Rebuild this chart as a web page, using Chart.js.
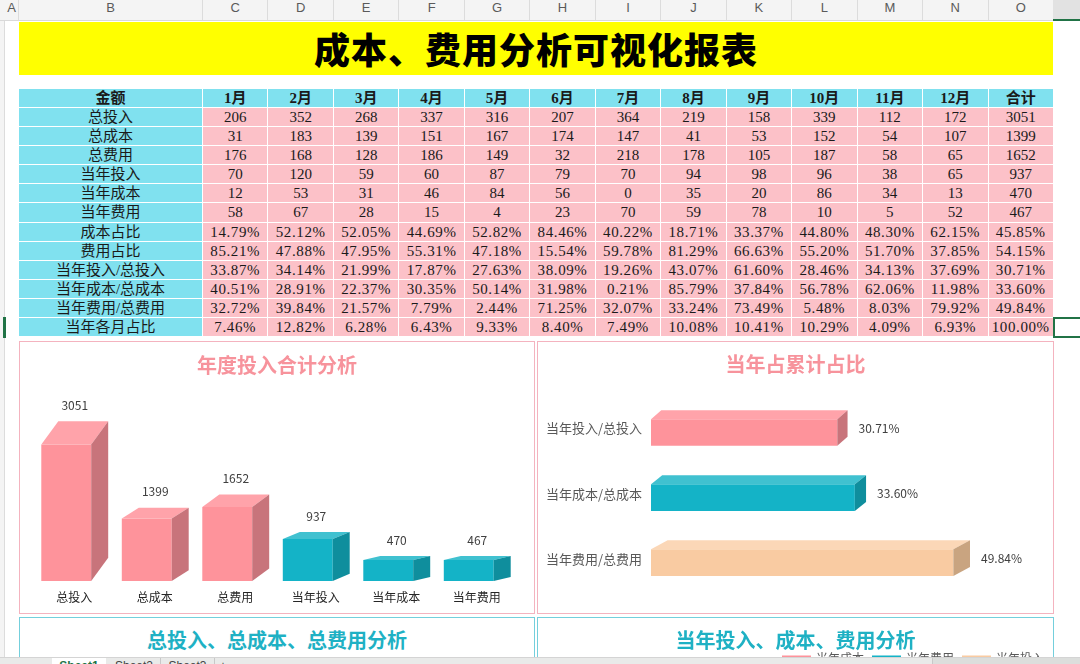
<!DOCTYPE html>
<html lang="zh-CN">
<head>
<meta charset="utf-8">
<title>成本、费用分析可视化报表</title>
<script src="https://cdn.jsdelivr.net/npm/chart.js@4.4.1/dist/chart.umd.min.js"></script>
<style>
html,body{margin:0;padding:0;width:1080px;height:664px;overflow:hidden;background:#fff;}
body{position:relative;font-family:"Noto Sans CJK SC","Noto Sans",sans-serif;}
.a{position:absolute;box-sizing:border-box;}
#hdr{left:0;top:0;width:1080px;height:21px;background:#f4f4f4;border-bottom:1px solid #d9d9d9;}
.hc{position:absolute;top:0;height:20px;line-height:20px;text-align:center;font:13px "Liberation Sans",Arial,sans-serif;color:#5a5a5a;border-right:1px solid #dcdcdc;box-sizing:border-box;}
#rowhdr{left:0;top:21px;width:5px;height:640px;background:#f4f4f4;border-right:1px solid #dcdcdc;}
#title{left:19px;top:22px;width:1034px;height:53px;background:#ffff00;text-align:center;font-weight:900;font-size:36px;line-height:53px;letter-spacing:1px;color:#000;}
.cell{position:absolute;box-sizing:border-box;border-right:1px solid #fff;border-bottom:1px solid #fff;text-align:center;font-family:"Liberation Serif","Noto Sans CJK SC",serif;font-size:15px;color:#1a1a1a;white-space:nowrap;overflow:hidden;}
.lab{background:#80e1ef;}
.val{background:#fcc1c8;}
.hd{font-weight:bold;}
.pct{letter-spacing:0.6px;}
.panel{position:absolute;box-sizing:border-box;}
.pk{border:1px solid #f4b3bf;}
.cy{border:1px solid #74cfdc;}
.ttl{position:absolute;text-align:center;font-weight:bold;font-size:20px;height:26px;line-height:26px;}
canvas{position:absolute;}
#tabs{left:0;top:657px;width:1080px;height:20px;background:#e9eae9;border-top:1px solid #d4d4d4;font:12px "Liberation Sans",Arial,sans-serif;color:#444;}
.tab{position:absolute;top:0;height:20px;line-height:16px;text-align:center;}
</style>
</head>
<body>
<div id="hdr" class="a"></div>
<div id="rowhdr" class="a"></div>
<div id="title" class="a">成本、费用分析可视化报表</div>
<div id="tbl"></div>

<div class="panel pk" style="left:19px;top:341px;width:516px;height:273px;"></div>
<div class="panel pk" style="left:537px;top:341px;width:517px;height:273px;"></div>
<div class="panel cy" style="left:19px;top:617px;width:516px;height:120px;"></div>
<div class="panel cy" style="left:537px;top:617px;width:517px;height:120px;"></div>

<canvas id="c1" width="513" height="270" style="left:20px;top:342px;"></canvas>
<canvas id="c2" width="514" height="270" style="left:538px;top:342px;"></canvas>
<canvas id="c4" width="517" height="240" style="left:538px;top:618px;"></canvas>

<div class="ttl" style="left:19px;top:352px;width:516px;color:#f7939c;">年度投入合计分析</div>
<div class="ttl" style="left:537px;top:351px;width:517px;color:#f7939c;">当年占累计占比</div>
<div class="ttl" style="left:19px;top:627px;width:516px;color:#1fb1c4;">总投入、总成本、总费用分析</div>
<div class="ttl" style="left:537px;top:627px;width:517px;color:#1fb1c4;">当年投入、成本、费用分析</div>

<div id="tabs" class="a">
  <div class="tab" style="left:12px;width:30px;color:#888;">◂ ▸</div>
  <div class="tab" style="left:52px;width:54px;background:#fff;color:#217346;font-weight:bold;">Sheet1</div>
  <div class="tab" style="left:108px;width:52px;border-right:1px solid #c8c8c8;">Sheet2</div>
  <div class="tab" style="left:161px;width:53px;border-right:1px solid #c8c8c8;">Sheet3</div>
  <div class="tab" style="left:216px;width:14px;">+</div>
  <div class="tab" style="left:932px;width:148px;background:#dcdedc;border-left:1px solid #c8c8c8;"></div>
</div>
<div class="a" style="left:1053px;top:0;width:27px;height:21px;background:#e2e2e2;border-bottom:2px solid #217346;"></div>
<div class="a" style="left:1053px;top:317px;width:30px;height:21px;border:2px solid #217346;"></div>
<div class="a" style="left:3px;top:317px;width:3px;height:21px;background:#217346;"></div>

<script>
// ---------------- DATA ----------------
const colLetters = ['A','B','C','D','E','F','G','H','I','J','K','L','M','N','O'];
const headerLabel = '金额';
const months = ['1月','2月','3月','4月','5月','6月','7月','8月','9月','10月','11月','12月','合计'];
const rowLabels = ['总投入','总成本','总费用','当年投入','当年成本','当年费用','成本占比','费用占比','当年投入/总投入','当年成本/总成本','当年费用/总费用','当年各月占比'];

const totalInput   = [206,352,268,337,316,207,364,219,158,339,112,172,3051];
const totalCost    = [31,183,139,151,167,174,147,41,53,152,54,107,1399];
const totalExpense = [176,168,128,186,149,32,218,178,105,187,58,65,1652];
const yearInput    = [70,120,59,60,87,79,70,94,98,96,38,65,937];
const yearCost     = [12,53,31,46,84,56,0,35,20,86,34,13,470];
const yearExpense  = [58,67,28,15,4,23,70,59,78,10,5,52,467];
const costRatio        = ['14.79%','52.12%','52.05%','44.69%','52.82%','84.46%','40.22%','18.71%','33.37%','44.80%','48.30%','62.15%','45.85%'];
const expenseRatio     = ['85.21%','47.88%','47.95%','55.31%','47.18%','15.54%','59.78%','81.29%','66.63%','55.20%','51.70%','37.85%','54.15%'];
const yearInputShare   = ['33.87%','34.14%','21.99%','17.87%','27.63%','38.09%','19.26%','43.07%','61.60%','28.46%','34.13%','37.69%','30.71%'];
const yearCostShare    = ['40.51%','28.91%','22.37%','30.35%','50.14%','31.98%','0.21%','85.79%','37.84%','56.78%','62.06%','11.98%','33.60%'];
const yearExpenseShare = ['32.72%','39.84%','21.57%','7.79%','2.44%','71.25%','32.07%','33.24%','73.49%','5.48%','8.03%','79.92%','49.84%'];
const monthShare       = ['7.46%','12.82%','6.28%','6.43%','9.33%','8.40%','7.49%','10.08%','10.41%','10.29%','4.09%','6.93%','100.00%'];

// chart 1
const annualCats   = ['总投入','总成本','总费用','当年投入','当年成本','当年费用'];
const annualValues = [3051,1399,1652,937,470,467];
// chart 2
const shareCats    = ['当年投入/总投入','当年成本/总成本','当年费用/总费用'];
const shareValues  = [30.71,33.60,49.84];
// chart 4 (monthly, partially visible)
const monthLabels  = ['1月','2月','3月','4月','5月','6月','7月','8月','9月','10月','11月','12月'];
const seriesNames4 = ['当年成本','当年费用','当年投入'];

// ---------------- LAYOUT / STYLE ----------------
const colEdges = [5,19,203];
for (let i = 1; i <= 13; i++) colEdges.push(203 + i * 65.46);
const tableTop = 89, rowH = 19.08;

const pinkFront = '#fe939b', pinkSide = '#c8747b', pinkTop = '#ffa3aa';
const tealFront = '#14b3c7', tealSide = '#0f8e9d', tealTop = '#40c1d0';
const peachFront = '#f9cba2', peachSide = '#c9a480', peachTop = '#fbd7b7';

// column header
const hdr = document.getElementById('hdr');
colLetters.forEach((L, i) => {
  const d = document.createElement('div');
  d.className = 'hc';
  d.style.left = colEdges[i] + 'px';
  d.style.width = (colEdges[i + 1] - colEdges[i]) + 'px';
  d.textContent = L;
  hdr.appendChild(d);
});

// table
const tbl = document.getElementById('tbl');
const rows = [totalInput, totalCost, totalExpense, yearInput, yearCost, yearExpense,
  costRatio, expenseRatio, yearInputShare, yearCostShare, yearExpenseShare, monthShare];
function addCell(r, c, text, cls) {
  const d = document.createElement('div');
  d.className = 'cell ' + cls;
  const x0 = c === 0 ? 19 : colEdges[c + 1];
  const x1 = colEdges[c + 2];
  const y0 = tableTop + r * rowH;
  d.style.left = x0 + 'px';
  d.style.width = (x1 - x0) + 'px';
  d.style.top = y0 + 'px';
  d.style.height = rowH + 'px';
  d.style.lineHeight = (rowH - 1) + 'px';
  d.textContent = text;
  tbl.appendChild(d);
}
addCell(0, 0, headerLabel, 'lab hd');
months.forEach((m, j) => addCell(0, j + 1, m, 'lab hd'));
rows.forEach((arr, i) => {
  addCell(i + 1, 0, rowLabels[i], 'lab');
  arr.forEach((v, j) => addCell(i + 1, j + 1, String(v), 'val' + (typeof v === 'string' ? ' pct' : '')));
});

// ---------------- 3D BAR PLUGIN ----------------
const bar3d = {
  id: 'bar3d',
  afterDatasetsDraw(chart, args, opts) {
    const ctx = chart.ctx;
    const horiz = chart.options.indexAxis === 'y';
    chart.data.datasets.forEach((ds, di) => {
      const meta = chart.getDatasetMeta(di);
      meta.data.forEach((el, i) => {
        const p = el.getProps(['x', 'y', 'base', 'width', 'height'], true);
        let l, r, t, b, dx, dy;
        if (!horiz) {
          l = p.x - p.width / 2; r = p.x + p.width / 2; t = p.y; b = p.base;
          dx = opts.dx; dy = Math.max(opts.minDy, (b - t) * opts.kDy);
        } else {
          l = p.base; r = p.x; t = p.y - p.height / 2; b = p.y + p.height / 2;
          dy = opts.dy; dx = Math.max(opts.minDx, (r - l) * opts.kDx);
        }
        ctx.save();
        ctx.fillStyle = opts.top[i];
        ctx.beginPath();
        ctx.moveTo(l, t); ctx.lineTo(l + dx, t - dy); ctx.lineTo(r + dx, t - dy); ctx.lineTo(r, t);
        ctx.closePath(); ctx.fill();
        ctx.fillStyle = opts.side[i];
        ctx.beginPath();
        ctx.moveTo(r, t); ctx.lineTo(r + dx, t - dy); ctx.lineTo(r + dx, b - dy); ctx.lineTo(r, b);
        ctx.closePath(); ctx.fill();
        // value label
        const v = ds.data[i];
        ctx.fillStyle = opts.labelColor;
        ctx.font = opts.labelFont;
        ctx.textBaseline = 'middle';
        if (!horiz) {
          ctx.textAlign = 'center';
          ctx.fillText(String(v), p.x + dx / 2, t - dy - opts.labelGap);
        } else {
          ctx.textAlign = 'left';
          ctx.fillText(v.toFixed(2) + '%', r + dx + opts.labelGap, p.y - dy / 2);
        }
        ctx.restore();
      });
    });
  }
};

const cjk = '"Noto Sans CJK SC","Noto Sans",sans-serif';

// ---------------- CHART 1 ----------------
new Chart(document.getElementById('c1'), {
  type: 'bar',
  data: {
    labels: annualCats,
    datasets: [{
      data: annualValues,
      backgroundColor: [pinkFront, pinkFront, pinkFront, tealFront, tealFront, tealFront],
      borderWidth: 0, barPercentage: 0.62, categoryPercentage: 1
    }]
  },
  options: {
    responsive: false, animation: false, devicePixelRatio: 1,
    layout: { padding: { left: 6, right: 24, top: 60, bottom: 0 } },
    plugins: {
      legend: { display: false }, tooltip: { enabled: false },
      bar3d: {
        dx: 17, kDy: 0.17, minDy: 4,
        top: [pinkTop, pinkTop, pinkTop, tealTop, tealTop, tealTop],
        side: [pinkSide, pinkSide, pinkSide, tealSide, tealSide, tealSide],
        labelColor: '#404040', labelFont: '12px ' + cjk, labelGap: 16
      }
    },
    scales: {
      x: {
        grid: { display: false, drawTicks: false }, border: { display: false },
        ticks: { color: '#262626', font: { size: 12, family: cjk }, labelOffset: 8, padding: 9, maxRotation: 0 },
        afterFit(s) { s.height = 31; }
      },
      y: { display: false, min: 0, max: 4000 }
    }
  },
  plugins: [bar3d]
});

// ---------------- CHART 2 ----------------
new Chart(document.getElementById('c2'), {
  type: 'bar',
  data: {
    labels: shareCats,
    datasets: [{
      data: shareValues,
      backgroundColor: [pinkFront, tealFront, peachFront],
      borderWidth: 0, barPercentage: 0.41, categoryPercentage: 1
    }]
  },
  options: {
    indexAxis: 'y',
    responsive: false, animation: false, devicePixelRatio: 1,
    layout: { padding: { left: 0, right: 37, top: 58, bottom: 10 } },
    plugins: {
      legend: { display: false }, tooltip: { enabled: false },
      bar3d: {
        dy: 9, kDx: 0.055, minDx: 9,
        top: [pinkTop, tealTop, peachTop],
        side: [pinkSide, tealSide, peachSide],
        labelColor: '#404040', labelFont: '12px ' + cjk, labelGap: 11
      }
    },
    scales: {
      x: { display: false, min: 0, max: 60 },
      y: {
        grid: { display: false, drawTicks: false }, border: { display: false },
        ticks: { color: '#595959', font: { size: 13, family: cjk }, padding: 9, labelOffset: -4 },
        afterFit(s) { s.width = 113; }
      }
    }
  },
  plugins: [bar3d]
});

// ---------------- CHART 4 (bottom right, mostly below view) ----------------
new Chart(document.getElementById('c4'), {
  type: 'line',
  data: {
    labels: monthLabels,
    datasets: [
      { label: seriesNames4[0], data: yearCost.slice(0, 12), borderColor: pinkFront, backgroundColor: pinkFront, borderWidth: 2, pointRadius: 0 },
      { label: seriesNames4[1], data: yearExpense.slice(0, 12), borderColor: tealFront, backgroundColor: tealFront, borderWidth: 2, pointRadius: 0 },
      { label: seriesNames4[2], data: yearInput.slice(0, 12), borderColor: peachFront, backgroundColor: peachFront, borderWidth: 2, pointRadius: 0 }
    ]
  },
  options: {
    responsive: false, animation: false, devicePixelRatio: 1,
    layout: { padding: { top: 25, right: 2, left: 10, bottom: 10 } },
    plugins: {
      tooltip: { enabled: false },
      legend: {
        position: 'top', align: 'end',
        labels: { boxWidth: 27, boxHeight: 3, color: '#595959', font: { size: 12, family: cjk }, padding: 9 }
      }
    },
    scales: {
      x: { grid: { display: false }, ticks: { color: '#595959' } },
      y: { display: false, min: 0 }
    }
  }
});
</script>
</body>
</html>
